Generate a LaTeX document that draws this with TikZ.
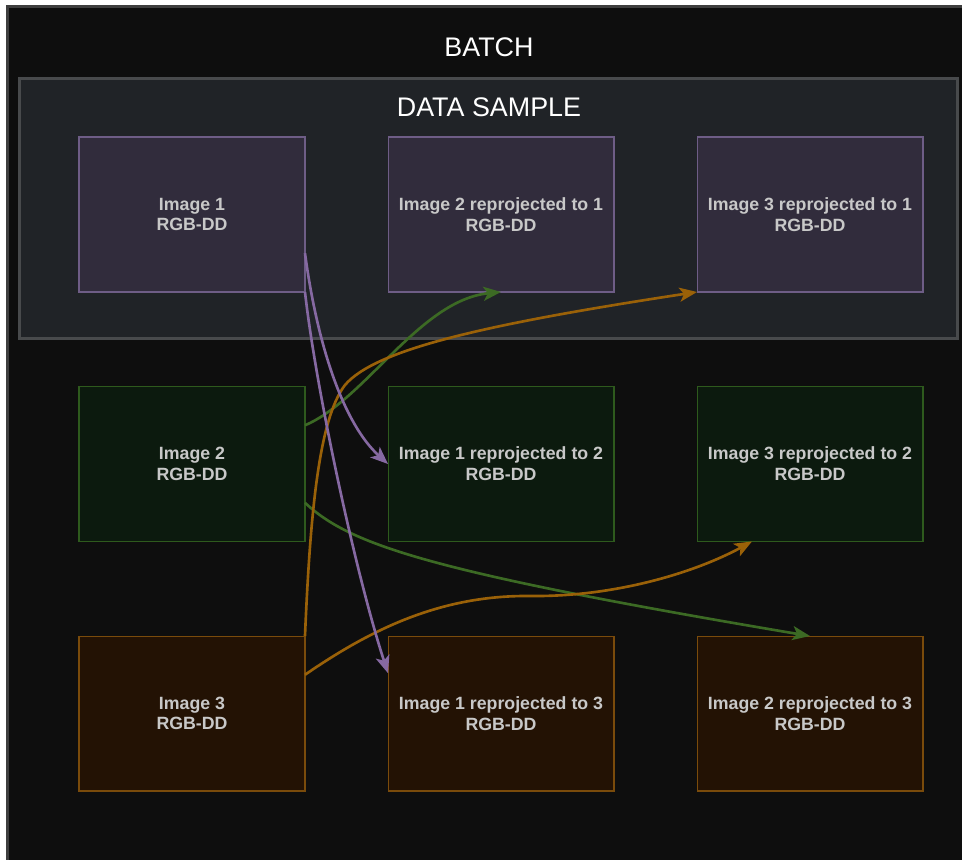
\documentclass[tikz,border=0pt]{standalone}
\usepackage{fontspec}
\setmainfont{Liberation Sans}
\usetikzlibrary{arrows.meta,calc}
\definecolor{batchbg}{HTML}{0E0E0E}
\definecolor{batchline}{HTML}{3E3E3E}
\definecolor{samplebg}{HTML}{202327}
\definecolor{sampleline}{HTML}{484A4C}
\definecolor{boxtext}{HTML}{C8C8C8}
\definecolor{purplefill}{HTML}{312C3C}
\definecolor{purpleline}{HTML}{6E5D86}
\definecolor{greenfill}{HTML}{0C1A0E}
\definecolor{greenline}{HTML}{2E5A1D}
\definecolor{orangefill}{HTML}{231204}
\definecolor{orangeline}{HTML}{7A4B0B}
\definecolor{purplearrow}{HTML}{8669A2}
\definecolor{greenarrow}{HTML}{3C6A24}
\definecolor{orangearrow}{HTML}{9A6108}
\begin{document}
\begin{tikzpicture}[x=0.02cm, y=-0.02cm,
        >={Stealth[length=10pt, width=8pt, inset=2.5pt]},
        img/.style={draw, line width=0.6pt, minimum width=4.52cm, minimum height=3.1cm,
            inner sep=2pt, outer sep=0pt, align=center, text=boxtext,
            font=\bfseries\fontsize{10.1}{11.8}\selectfont},
        view1/.style={img, fill=purplefill, draw=purpleline},
        view2/.style={img, fill=greenfill, draw=greenline},
        view3/.style={img, fill=orangefill, draw=orangeline},
        title/.style={text=white, font=\fontsize{15.3}{17}\selectfont},
        warp1/.style={->, line width=1.5pt, draw=purplearrow},
        warp2/.style={->, line width=1.5pt, draw=greenarrow},
        warp3/.style={->, line width=1.5pt, draw=orangearrow}]
        \useasboundingbox (0, 0) rectangle (962, 859);
        \fill[white] (0, 0) rectangle (962, 859);
        \draw[line width=1.7pt, draw=batchline, fill=batchbg] (7.5, 6.5) rectangle (1000, 900);
        \draw[line width=1.7pt, draw=sampleline, fill=samplebg] (19.5, 78.5) rectangle (957.5, 338.5);
        \draw (489, 47) node[title] (batch) {BATCH};
        \draw (489, 107) node[title] (sample) {DATA SAMPLE};

        \draw (192, 214.5) node[view1] (i1) {Image 1\\RGB-DD};
        \draw (501, 214.5) node[view1] (r21) {Image 2 reprojected to 1\\RGB-DD};
        \draw (810, 214.5) node[view1] (r31) {Image 3 reprojected to 1\\RGB-DD};

        \draw (192, 464) node[view2] (i2) {Image 2\\RGB-DD};
        \draw (501, 464) node[view2] (r12) {Image 1 reprojected to 2\\RGB-DD};
        \draw (810, 464) node[view2] (r32) {Image 3 reprojected to 2\\RGB-DD};

        \draw (192, 713.5) node[view3] (i3) {Image 3\\RGB-DD};
        \draw (501, 713.5) node[view3] (r13) {Image 1 reprojected to 3\\RGB-DD};
        \draw (810, 713.5) node[view3] (r23) {Image 2 reprojected to 3\\RGB-DD};

        \draw[warp2] ($(i2.north east)!0.25!(i2.south east)$) .. controls (365, 400) and (420, 300) .. (r21.south);
        \draw[warp2] ($(i2.north east)!0.75!(i2.south east)$) .. controls (350, 545) and (430, 572) .. (r23.north);

        \draw[warp3] (i3.north east) .. controls (310, 520) and (318, 420) .. (345, 385)
            .. controls (375, 350) and (480, 325) .. (r31.south west);
        \draw[warp3] ($(i3.north east)!0.25!(i3.south east)$) .. controls (370, 630) and (440, 595) .. (530, 596)
            .. controls (620, 597) and (700, 570) .. ($(r32.south west)!0.243!(r32.south east)$);

        \draw[warp1] ($(i1.north east)!0.75!(i1.south east)$) .. controls (318, 350) and (345, 425) .. (r12.west);
        \draw[warp1] (i1.south east) .. controls (316, 390) and (356, 575) .. ($(r13.north west)!0.24!(r13.south west)$);
    \end{tikzpicture}
\end{document}
